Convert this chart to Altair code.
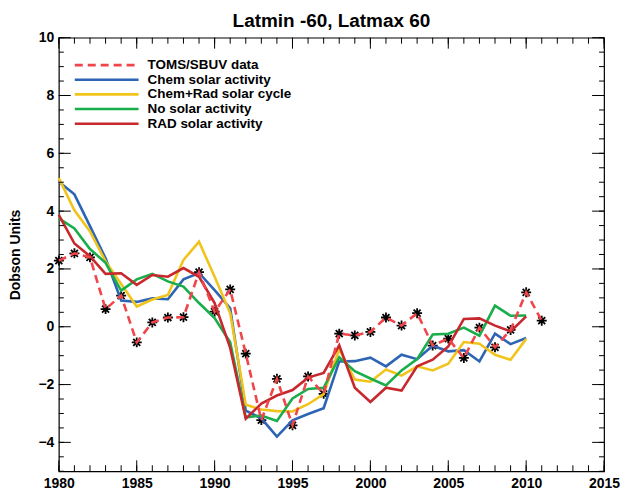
import altair as alt
import pandas as pd

# ---------------- data ----------------
model_years = list(range(1980, 2011))
toms_years = list(range(1980, 2012))

toms = [2.29, 2.54, 2.40, 0.61, 1.08, -0.54, 0.15, 0.32, 0.33, 1.89, 0.52, 1.29,
        -0.93, -3.23, -1.80, -3.41, -1.72, -2.32, -0.24, -0.30, -0.18, 0.32, 0.04,
        0.47, -0.65, -0.41, -1.08, -0.03, -0.71, -0.11, 1.19, 0.21]
chem = [5.02, 4.58, 3.48, 2.37, 0.91, 0.86, 0.98, 0.95, 1.64, 1.86, 1.27, 0.64,
        -2.90, -3.17, -3.80, -3.24, -3.02, -2.82, -1.20, -1.19, -1.07, -1.37, -0.97,
        -1.12, -0.66, -0.85, -0.81, -1.20, -0.24, -0.60, -0.39]
chemrad = [5.14, 4.03, 3.30, 2.26, 1.48, 0.70, 0.94, 1.10, 2.31, 2.94, 1.73, 0.47,
           -2.70, -2.86, -2.92, -2.93, -2.68, -2.33, -0.77, -1.83, -1.90, -1.48, -1.69,
           -1.37, -1.51, -1.28, -0.53, -0.59, -0.97, -1.14, -0.42]
nosolar = [3.75, 3.40, 2.69, 2.21, 1.25, 1.64, 1.83, 1.57, 1.39, 0.82, 0.30, -0.54,
           -3.13, -3.07, -3.26, -2.48, -2.15, -2.11, -1.06, -1.54, -1.79, -2.03, -1.51,
           -1.12, -0.27, -0.24, -0.03, -0.31, 0.73, 0.38, 0.39]
rad = [3.87, 2.88, 2.44, 1.83, 1.85, 1.45, 1.79, 1.73, 2.03, 1.73, 0.82, -0.73,
       -3.18, -2.66, -2.38, -2.19, -1.76, -1.60, -0.64, -2.11, -2.60, -2.11, -2.21,
       -1.37, -1.14, -0.68, 0.27, 0.29, 0.04, -0.16, 0.36]

toms_name = "TOMS/SBUV data"
series_names = ["Chem solar activity", "Chem+Rad solar cycle", "No solar activity", "RAD solar activity"]
series_values = [chem, chemrad, nosolar, rad]
toms_color = "#f0454a"
series_colors = ["#2d64b4", "#f1c41c", "#19ad4b", "#c7282d"]

x_label_values = [1980, 1985, 1990, 1995, 2000, 2005, 2010, 2015]
y_label_values = [-4, -2, 0, 2, 4, 6, 8, 10]
x_minor = list(range(1980, 2016))
y_minor = [v / 2 for v in range(-10, 21)]
y_major = [-4, -2, 0, 2, 4, 6, 8, 10]

# ---------------- tables ----------------
toms_df = pd.DataFrame({"year": toms_years, "value": toms})
rows = []
for name, vals in zip(series_names, series_values):
    for yr, v in zip(model_years, vals):
        rows.append({"year": yr, "value": v, "series": name})
models_df = pd.DataFrame(rows)

W, H = 547, 435
FONT = "Liberation Sans"

xs = alt.Scale(domain=[1980, 2015], nice=False, zero=False)
ys = alt.Scale(domain=[-5, 10], nice=False, zero=False)
x_axis = alt.Axis(values=x_label_values, format="d", title=None, labelPadding=5,
                  labelFlush=False, labelOverlap=False)
y_axis = alt.Axis(values=y_label_values, title="Dobson Units", labelPadding=5,
                  labelFlush=False, labelOverlap=False, titleX=-36, titleY=H / 2)

X = alt.X("year:Q", scale=xs, axis=x_axis)
Y = alt.Y("value:Q", scale=ys, axis=y_axis)

ASTER = "M-1,0L1,0M0,-1L0,1M-0.7,-0.7L0.7,0.7M-0.7,0.7L0.7,-0.7"

markers = alt.Chart(toms_df).mark_point(
    shape=ASTER, size=100, filled=False, stroke="black", strokeWidth=1.8, opacity=1
).encode(x=X, y=Y)

models = alt.Chart(models_df).mark_line(strokeWidth=2.6).encode(
    x=X, y=Y,
    color=alt.Color("series:N", scale=alt.Scale(domain=series_names, range=series_colors), legend=None),
    detail="series:N",
)

toms_line = alt.Chart(toms_df).mark_line(
    color=toms_color, strokeWidth=2.6, strokeDash=[8, 5]
).encode(x=X, y=Y)

# inward ticks
xmin_df = pd.DataFrame({"year": x_minor})
xmaj_df = pd.DataFrame({"year": x_label_values})
ymin_df = pd.DataFrame({"value": y_minor})
ymaj_df = pd.DataFrame({"value": y_major})

def xticks(df, length):
    b = alt.Chart(df).mark_rule(color="black", strokeWidth=1).encode(
        x=X, y=alt.value(H), y2=alt.value(H - length))
    t = alt.Chart(df).mark_rule(color="black", strokeWidth=1).encode(
        x=X, y=alt.value(0), y2=alt.value(length))
    return [b, t]

def yticks(df, length):
    l = alt.Chart(df).mark_rule(color="black", strokeWidth=1).encode(
        y=Y, x=alt.value(0), x2=alt.value(length))
    r = alt.Chart(df).mark_rule(color="black", strokeWidth=1).encode(
        y=Y, x=alt.value(W), x2=alt.value(W - length))
    return [l, r]

tick_layers = xticks(xmin_df, 6) + xticks(xmaj_df, 11) + yticks(ymin_df, 5) + yticks(ymaj_df, 12)

# legend (drawn inside plot, top-left)
legend_labels = [toms_name] + series_names
legend_colors = [toms_color] + series_colors
legend_layers = []
for i, (lab, col) in enumerate(zip(legend_labels, legend_colors)):
    ldf = pd.DataFrame({"label": [lab]})
    yy = 27.5 + 14.7 * i
    rule_kw = dict(color=col, strokeWidth=2.6)
    if i == 0:
        rule_kw["strokeDash"] = [8, 5]
    legend_layers.append(
        alt.Chart(ldf).mark_rule(**rule_kw).encode(
            x=alt.value(16), x2=alt.value(80), y=alt.value(yy))
    )
    legend_layers.append(
        alt.Chart(ldf).mark_text(align="left", baseline="middle", font=FONT,
                                 fontSize=13.5, fontWeight="bold", color="black").encode(
            x=alt.value(89), y=alt.value(yy), text="label:N")
    )

chart = alt.layer(
    markers, models, toms_line, *tick_layers, *legend_layers
).properties(
    width=W, height=H,
    title=alt.TitleParams("Latmin -60, Latmax 60", font=FONT, fontSize=19,
                          fontWeight="bold", anchor="middle", frame="group",
                          offset=0, color="black"),
    autosize=alt.AutoSizeParams(type="none"),
    padding={"left": 51, "top": 29, "right": 16, "bottom": 22},
).configure_view(
    stroke="black", strokeWidth=1.2
).configure_axis(
    labelFont=FONT, labelFontSize=14, labelFontWeight="bold", labelColor="black",
    titleFont=FONT, titleFontSize=14, titleFontWeight="bold", titleColor="black",
    domain=False, ticks=False, grid=False,
)

chart.save("out.html", embed_options={"renderer": "svg", "actions": False})
